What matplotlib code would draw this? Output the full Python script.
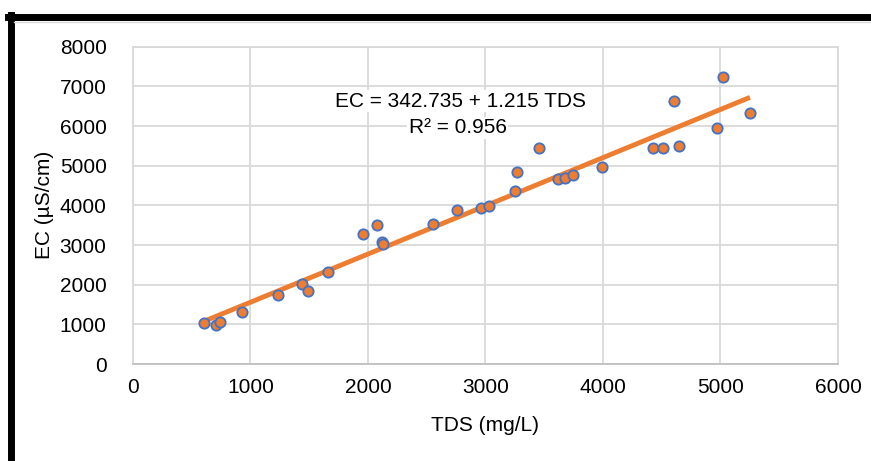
import matplotlib
matplotlib.use("Agg")
import matplotlib.pyplot as plt
from matplotlib.lines import Line2D
import numpy as np

plt.rcParams['font.family'] = ['Liberation Sans', 'DejaVu Sans']

tds = [604, 707, 740, 928, 1234, 1438, 1489, 1660, 1957, 2077, 2119, 2130,
       2553, 2757, 2962, 3030, 3251, 3268, 3455, 3617, 3677, 3745, 3991,
       4426, 4511, 4604, 4647, 4970, 5021, 5251]
ec = [1033, 982, 1058, 1310, 1738, 2015, 1839, 2317, 3275, 3501, 3073, 3020,
      3526, 3879, 3929, 3980, 4358, 4836, 5441, 4660, 4685, 4761, 4962,
      5441, 5441, 6625, 5491, 5945, 7229, 6322]
intercept = 342.735
slope = 1.215
x_ticks = [0, 1000, 2000, 3000, 4000, 5000, 6000]
y_ticks = [0, 1000, 2000, 3000, 4000, 5000, 6000, 7000, 8000]

fig = plt.figure(figsize=(8.71, 4.61), dpi=100)
ax = fig.add_axes([0.1527, 0.2104, 0.8094, 0.6883])

ax.set_xlim(0, 6000)
ax.set_ylim(0, 8000)
ax.set_xticks(x_ticks)
ax.set_yticks(y_ticks)
ax.grid(True, color='#D9D9D9', linewidth=1.3, zorder=0)
ax.set_axisbelow(True)
for s in ax.spines.values():
    s.set_color('#D9D9D9')
    s.set_linewidth(1.3)
ax.spines['bottom'].set_color('#BFBFBF')
ax.tick_params(length=0, labelsize=15, colors='black')
ax.tick_params(axis='x', pad=10)
ax.tick_params(axis='y', pad=19)

xf = np.array([min(tds), max(tds)])
ax.plot(xf, intercept + slope * xf, color='#ED7D31', linewidth=3.5, zorder=2,
        solid_capstyle='butt')
ax.scatter(tds, ec, s=55, color='#ED7D31', edgecolor='#4472C4', linewidth=1.3,
           zorder=3)

ax.text(2790, 6620, 'EC = 342.735 + 1.215 TDS', ha='center', va='center',
        fontsize=15, zorder=4, bbox=dict(facecolor='white', edgecolor='none', pad=1))
ax.text(2765, 5960, 'R² = 0.956', ha='center', va='center', fontsize=15,
        zorder=4, bbox=dict(facecolor='white', edgecolor='none', pad=1))

ax.set_xlabel('TDS (mg/L)', fontsize=15, labelpad=14)
ax.set_ylabel('EC (µS/cm)', fontsize=15, labelpad=4)

# outer border (top and left)
fig.add_artist(Line2D([0.0092, 1.0], [1 - 17.5 / 461, 1 - 17.5 / 461],
                      transform=fig.transFigure, color='black', linewidth=5))
fig.add_artist(Line2D([10.5 / 871, 10.5 / 871], [0, 1 - 15 / 461],
                      transform=fig.transFigure, color='black', linewidth=5))
fig.add_artist(Line2D([14 / 871, 1.0], [1 - 22.5 / 461, 1 - 22.5 / 461],
                      transform=fig.transFigure, color='#D9D9D9', linewidth=1))

fig.savefig('out.png', dpi=100, facecolor='white')
